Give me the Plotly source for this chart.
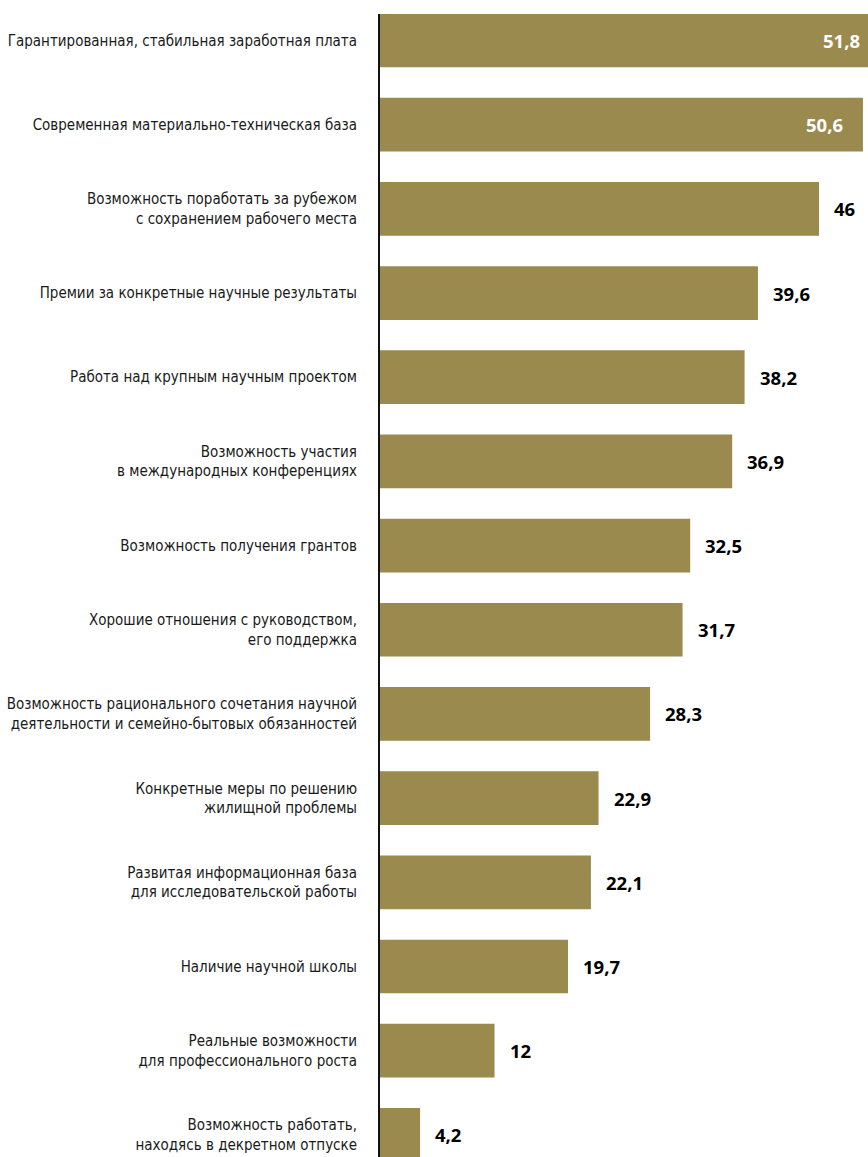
import plotly.graph_objects as go

categories = [
    "Гарантированная, стабильная заработная плата",
    "Современная материально-техническая база",
    "Возможность поработать за рубежом<br>с сохранением рабочего места",
    "Премии за конкретные научные результаты",
    "Работа над крупным научным проектом",
    "Возможность участия<br>в международных конференциях",
    "Возможность получения грантов",
    "Хорошие отношения с руководством,<br>его поддержка",
    "Возможность рационального сочетания научной<br>деятельности и семейно-бытовых обязанностей",
    "Конкретные меры по решению<br>жилищной проблемы",
    "Развитая информационная база<br>для исследовательской работы",
    "Наличие научной школы",
    "Реальные возможности<br>для профессионального роста",
    "Возможность работать,<br>находясь в декретном отпуске",
]
values = [51.8, 50.6, 46, 39.6, 38.2, 36.9, 32.5, 31.7, 28.3, 22.9, 22.1, 19.7, 12, 4.2]
value_labels = ["51,8", "50,6", "46", "39,6", "38,2", "36,9", "32,5", "31,7", "28,3", "22,9", "22,1", "19,7", "12", "4,2"]

BAR_COLOR = "#9A8A4E"
XMAX = 51.13
LABEL_FONT = "DejaVu Sans Condensed, DejaVu Sans"
VALUE_FONT = "Open Sans, Noto Sans, sans-serif"

idx = list(range(len(categories)))

fig = go.Figure(go.Bar(
    x=values,
    y=idx,
    orientation="h",
    marker=dict(color=BAR_COLOR, line=dict(width=0)),
    width=0.638,
    hoverinfo="skip",
))

annotations = []
for i, (v, t) in enumerate(zip(values, value_labels)):
    inside = i < 2
    annotations.append(dict(
        x=min(v, XMAX), y=i, xref="x", yref="y",
        text=f"<b>{t}</b>",
        showarrow=False,
        xanchor="right" if inside else "left",
        yanchor="middle",
        xshift=(-6 if i == 0 else -18) if inside else 13,
        font=dict(family=VALUE_FONT, size=18.5, color="#ffffff" if inside else "#000000"),
    ))

fig.update_layout(
    width=868, height=1157,
    margin=dict(l=380, r=0, t=14, b=0, pad=0),
    paper_bgcolor="white", plot_bgcolor="white",
    showlegend=False,
    annotations=annotations,
    xaxis=dict(range=[0, XMAX], visible=False, showgrid=False, zeroline=False),
    yaxis=dict(
        range=[13.263, -0.3148],
        tickmode="array", tickvals=idx, ticktext=categories,
        showgrid=False, zeroline=False, automargin=False,
        showline=True, linecolor="#111111", linewidth=2,
        ticks="", ticklabelstandoff=18,
        tickfont=dict(family=LABEL_FONT, size=15, color="#1a1a1a"),
    ),
)

fig.write_html("out.html")
